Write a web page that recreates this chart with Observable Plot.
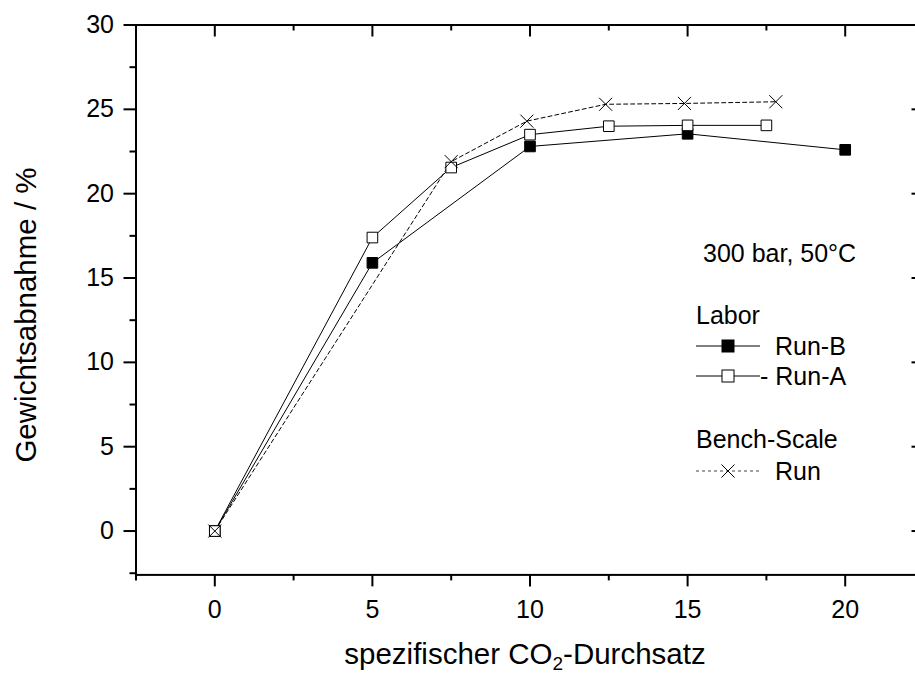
<!DOCTYPE html>
<html><head><meta charset="utf-8">
<script src="https://cdn.jsdelivr.net/npm/d3@7"></script>
<script src="https://cdn.jsdelivr.net/npm/@observablehq/plot@0.6"></script>
<style>
html,body{margin:0;padding:0;background:#fff;overflow:hidden;}
#wrap{position:relative;width:915px;height:675px;overflow:hidden;}
</style></head><body><div id="wrap"></div>
<script>
// ---- data ----
const runBX = [0, 5, 10, 15, 20];
const runBY = [0, 15.9, 22.8, 23.55, 22.6];
const runAX = [0, 5, 7.5, 10, 12.5, 15, 17.5];
const runAY = [0, 17.4, 21.55, 23.5, 24.0, 24.05, 24.05];
const benchX = [0, 7.5, 9.9, 12.4, 14.9, 17.8];
const benchY = [0, 21.9, 24.3, 25.3, 25.35, 25.45];
const xMajor = [0, 5, 10, 15, 20];
const xMinor = [-2.5, 2.5, 7.5, 12.5, 17.5, 22.5];
const yMajor = [0, 5, 10, 15, 20, 25, 30];
const yMinor = [-2.5, 2.5, 7.5, 12.5, 17.5, 22.5, 27.5];
const xTitleParts = ["spezifischer CO", "2", "-Durchsatz"];
const yTitle = "Gewichtsabnahme / %";
const noteText = "300 bar, 50°C";
const groupLabels = ["Labor", "Bench-Scale"];
const seriesLabels = ["Run-B", "- Run-A", "Run"];

const toRows = (xs, ys) => xs.map((x, i) => ({x, y: ys[i]}));
const runB = toRows(runBX, runBY);
const runA = toRows(runAX, runAY);
const bench = toRows(benchX, benchY);

const FONT = "'Liberation Sans', Arial, Helvetica, sans-serif";
const W = 915, H = 675, mL = 135.5, mR = -8.5, mT = 24.5, mB = 100.6;
const iW = W - mL - mR, iH = H - mT - mB;

const chart = Plot.plot({
  width: W, height: H,
  marginLeft: mL, marginRight: mR, marginTop: mT, marginBottom: mB,
  style: {fontFamily: FONT, background: "white", color: "black"},
  x: {domain: [-2.5, 22.5]},
  y: {domain: [-2.6, 30]},
  marks: [
    Plot.axisX(xMajor, {anchor: "bottom", tickSize: 12, tickPadding: 13.5, fontSize: 25, label: null, strokeWidth: 2, tickFormat: d => String(d)}),
    Plot.axisX(xMinor, {anchor: "bottom", tickSize: 6, label: null, strokeWidth: 2, tickFormat: () => ""}),
    Plot.axisY(yMajor, {anchor: "left", tickSize: 12, tickPadding: 10, fontSize: 25, label: null, strokeWidth: 2, tickFormat: d => String(d)}),
    Plot.axisY(yMinor, {anchor: "left", tickSize: 6, label: null, strokeWidth: 2, tickFormat: () => ""}),
    // inward ticks on top and right
    Plot.ruleX(xMajor, {x: d => d, insetBottom: iH - 12, strokeWidth: 2}),
    Plot.ruleX(xMinor, {x: d => d, insetBottom: iH - 6, strokeWidth: 2}),
    Plot.ruleY(yMajor, {y: d => d, insetLeft: iW - 12, strokeWidth: 2}),
    Plot.ruleY(yMinor, {y: d => d, insetLeft: iW - 6, strokeWidth: 2}),
    Plot.frame({stroke: "black", strokeWidth: 2}),
    // data lines
    Plot.line(runB, {x: "x", y: "y", stroke: "black", strokeWidth: 1}),
    Plot.line(runA, {x: "x", y: "y", stroke: "black", strokeWidth: 1}),
    Plot.line(bench, {x: "x", y: "y", stroke: "black", strokeWidth: 1, strokeDasharray: "4,3"}),
    // markers
    Plot.dot(runB, {x: "x", y: "y", symbol: "square", r: 6, fill: "black", stroke: "black", strokeWidth: 1}),
    Plot.dot(runA, {x: "x", y: "y", symbol: "square", r: 6, fill: "white", stroke: "black", strokeWidth: 1}),
    Plot.dot(bench, {x: "x", y: "y", symbol: "times", r: 6, stroke: "black", strokeWidth: 1})
  ]
});

document.getElementById("wrap").appendChild(chart);

// ---- titles and legend (text) ----
const svg = d3.select(chart);
const g = svg.append("g").attr("font-family", FONT).attr("fill", "black").attr("text-anchor", "start");

// x title
const xt = g.append("text").attr("x", 525).attr("y", 664).attr("text-anchor", "middle").attr("font-size", 29.5);
xt.append("tspan").text(xTitleParts[0]);
xt.append("tspan").attr("font-size", 19).attr("dy", 6).text(xTitleParts[1]);
xt.append("tspan").attr("dy", -6).text(xTitleParts[2]);

// y title
g.append("text").attr("transform", "translate(36,315) rotate(-90)").attr("text-anchor", "middle").attr("font-size", 29.5).text(yTitle);

// legend
const LF = 25;
g.append("text").attr("x", 703).attr("y", 262).attr("font-size", LF).text(noteText);
g.append("text").attr("x", 696).attr("y", 324).attr("font-size", LF).text(groupLabels[0]);
g.append("text").attr("x", 696).attr("y", 448).attr("font-size", LF).text(groupLabels[1]);

const rows = [
  {y: 346, type: "filled", label: seriesLabels[0], tx: 775},
  {y: 376, type: "open", label: seriesLabels[1], tx: 760},
  {y: 471, type: "times", label: seriesLabels[2], tx: 775}
];
for (const r of rows) {
  const line = g.append("line").attr("x1", 696).attr("x2", 760).attr("y1", r.y).attr("y2", r.y)
    .attr("stroke", r.type === "times" ? "#444" : "black").attr("stroke-width", 1);
  if (r.type === "times") line.attr("stroke-dasharray", "3,3");
  if (r.type === "times") {
    g.append("path").attr("d", `M${728-6.5},${r.y-6.5}L${728+6.5},${r.y+6.5}M${728-6.5},${r.y+6.5}L${728+6.5},${r.y-6.5}`)
      .attr("stroke", "black").attr("stroke-width", 1).attr("fill", "none");
  } else {
    g.append("rect").attr("x", 728 - 6).attr("y", r.y - 6).attr("width", 12).attr("height", 12)
      .attr("fill", r.type === "filled" ? "black" : "white").attr("stroke", "black").attr("stroke-width", 1);
  }
  g.append("text").attr("x", r.tx).attr("y", r.y + 9).attr("font-size", LF).text(r.label);
}
</script>
</body></html>
